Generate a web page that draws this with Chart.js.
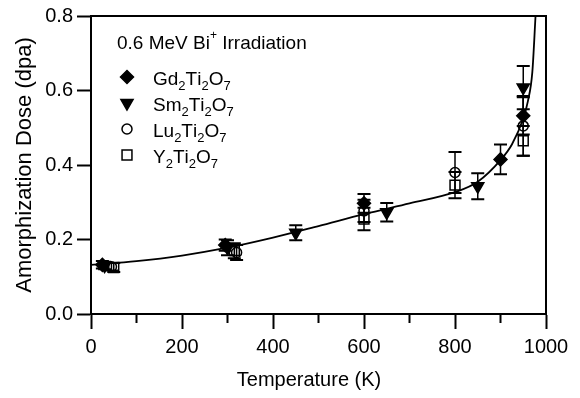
<!DOCTYPE html>
<html>
<head>
<meta charset="utf-8">
<script src="https://cdn.jsdelivr.net/npm/chart.js@4/dist/chart.umd.min.js"></script>
<style>
  html, body { margin: 0; padding: 0; background: #fff; }
</style>
</head>
<body>
<canvas id="myChart" width="580" height="398"></canvas>
<script>
// data
var titleParts = ['0.6 MeV Bi', '+', ' Irradiation'];
var names = ['Gd2Ti2O7', 'Sm2Ti2O7', 'Lu2Ti2O7', 'Y2Ti2O7'];
var xTitle = 'Temperature (K)';
var yTitle = 'Amorphization Dose (dpa)';

var gdT = [25, 295, 600, 900, 950];
var gdDose = [0.132, 0.185, 0.297, 0.415, 0.532];
var gdErr = [0.01, 0.015, 0.025, 0.04, 0.05];

var smT = [30, 300, 450, 650, 850, 950];
var smDose = [0.13, 0.178, 0.218, 0.273, 0.343, 0.608];
var smErr = [0.01, 0.02, 0.02, 0.025, 0.035, 0.058];

var luT = [45, 320, 600, 800, 950];
var luDose = [0.127, 0.165, 0.277, 0.38, 0.505];
var luErr = [0.01, 0.02, 0.03, 0.055, 0.08];

var yT = [50, 315, 600, 800, 950];
var yDose = [0.125, 0.17, 0.255, 0.346, 0.465];
var yErr = [0.012, 0.02, 0.03, 0.035, 0.04];

// fitted curve, read at several temperatures
var fitT = [0, 100, 200, 300, 400, 500, 600, 700, 800, 850, 900, 925, 950, 960, 970, 977];
var fitDose = [0.132, 0.142, 0.157, 0.178, 0.205, 0.236, 0.268, 0.297, 0.327, 0.355, 0.413, 0.455, 0.525, 0.57, 0.65, 0.8];

var xTicks = [0, 200, 400, 600, 800, 1000];
var xMinor = [100, 300, 500, 700, 900];
var yTicks = [0, 0.2, 0.4, 0.6, 0.8];

var FONT = '"Liberation Sans", Arial, Helvetica, sans-serif';
Chart.defaults.font.family = FONT;
Chart.defaults.color = '#000';

function pts(t, v) {
  return t.map(function (x, i) { return { x: x, y: v[i] }; });
}

var series = [
  { label: names[0], t: gdT, v: gdDose, e: gdErr, style: 'rectRot', r: 6.5, rot: 0, fill: '#000' },
  { label: names[1], t: smT, v: smDose, e: smErr, style: 'triangle', r: 7, rot: 180, fill: '#000' },
  { label: names[2], t: luT, v: luDose, e: luErr, style: 'circle', r: 5, rot: 0, fill: 'rgba(0,0,0,0)' },
  { label: names[3], t: yT, v: yDose, e: yErr, style: 'rect', r: 7, rot: 0, fill: 'rgba(0,0,0,0)' }
];

var datasets = series.map(function (s) {
  return {
    label: s.label,
    data: pts(s.t, s.v),
    errors: s.e,
    pointStyle: s.style,
    pointRadius: s.r,
    pointRotation: s.rot,
    pointBackgroundColor: s.fill,
    pointBorderColor: '#000',
    pointBorderWidth: 1.5,
    showLine: false
  };
});
datasets.push({
  label: 'fit',
  data: pts(fitT, fitDose),
  showLine: true,
  borderColor: '#000',
  borderWidth: 1.8,
  pointRadius: 0,
  cubicInterpolationMode: 'monotone'
});

function tickVals(arr) {
  return function (scale) {
    scale.ticks = arr.map(function (v) { return { value: v }; });
  };
}

var errorBars = {
  id: 'errorBars',
  afterDatasetsDraw: function (chart) {
    var ctx = chart.ctx, xs = chart.scales.x, ys = chart.scales.y;
    ctx.save();
    ctx.strokeStyle = '#000';
    chart.data.datasets.forEach(function (ds) {
      if (!ds.errors) return;
      ds.data.forEach(function (p, i) {
        var px = xs.getPixelForValue(p.x);
        var top = ys.getPixelForValue(p.y + ds.errors[i]);
        var bot = ys.getPixelForValue(p.y - ds.errors[i]);
        ctx.lineWidth = 1.5;
        ctx.beginPath();
        ctx.moveTo(px, top); ctx.lineTo(px, bot);
        ctx.stroke();
        ctx.lineWidth = 2;
        ctx.beginPath();
        ctx.moveTo(px - 6.5, top); ctx.lineTo(px + 6.5, top);
        ctx.moveTo(px - 6.5, bot); ctx.lineTo(px + 6.5, bot);
        ctx.stroke();
      });
    });
    ctx.restore();
  }
};

function drawFormula(ctx, s, x, y) {
  for (var i = 0; i < s.length; i++) {
    var c = s[i];
    if (c >= '0' && c <= '9') {
      ctx.font = '13px ' + FONT;
      ctx.fillText(c, x, y + 5);
    } else {
      ctx.font = '19px ' + FONT;
      ctx.fillText(c, x, y);
    }
    x += ctx.measureText(c).width;
  }
}

var frame = {
  id: 'frame',
  afterDraw: function (chart) {
    var ctx = chart.ctx, a = chart.chartArea, xs = chart.scales.x;
    ctx.save();
    ctx.strokeStyle = '#000';
    ctx.lineWidth = 2;
    ctx.beginPath();
    ctx.moveTo(a.left, a.top); ctx.lineTo(a.right, a.top); ctx.lineTo(a.right, a.bottom);
    ctx.stroke();
    // minor x ticks
    ctx.beginPath();
    xMinor.forEach(function (v) {
      var px = xs.getPixelForValue(v);
      ctx.moveTo(px, a.bottom); ctx.lineTo(px, a.bottom + 9);
    });
    ctx.stroke();

    ctx.fillStyle = '#000';
    // x axis title, sits a bit left of centre in the original
    ctx.font = '20px ' + FONT;
    ctx.textAlign = 'center';
    ctx.textBaseline = 'middle';
    ctx.fillText(xTitle, 309, 380);

    // legend box inside plot
    ctx.textAlign = 'left';
    ctx.textBaseline = 'alphabetic';
    ctx.font = '19px ' + FONT;
    var x = 117, y = 49;
    ctx.fillText(titleParts[0], x, y);
    x += ctx.measureText(titleParts[0]).width;
    ctx.font = '12px ' + FONT;
    ctx.fillText(titleParts[1], x, y - 10);
    x += ctx.measureText(titleParts[1]).width;
    ctx.font = '19px ' + FONT;
    ctx.fillText(titleParts[2], x, y);

    series.forEach(function (s, i) {
      var base = 85 + i * 26;
      ctx.fillStyle = s.fill;
      ctx.strokeStyle = '#000';
      ctx.lineWidth = 1.5;
      Chart.helpers.drawPoint(ctx, { pointStyle: s.style, rotation: s.rot, radius: s.r, borderWidth: 1.5 }, 127, base - 8);
      ctx.fillStyle = '#000';
      drawFormula(ctx, s.label, 153, base);
    });
    ctx.restore();
  }
};

var ctx = document.getElementById('myChart').getContext('2d');
var myChart = new Chart(ctx, {
  type: 'scatter',
  data: { datasets: datasets },
  plugins: [errorBars, frame],
  options: {
    responsive: false,
    animation: false,
    devicePixelRatio: 1,
    layout: { padding: { top: 15, right: 34, left: 0, bottom: 0 } },
    plugins: { legend: { display: false }, tooltip: { enabled: false } },
    scales: {
      x: {
        type: 'linear', min: 0, max: 1000,
        afterBuildTicks: tickVals(xTicks),
        afterFit: function (s) { s.height = 84; },
        ticks: { font: { size: 20 }, padding: 6, maxRotation: 0, callback: function (v) { return String(v); } },
        grid: { drawOnChartArea: false, tickLength: 15, tickWidth: 2, tickColor: '#000' },
        border: { color: '#000', width: 2 },
        title: { display: false }
      },
      y: {
        type: 'linear', min: 0, max: 0.8,
        afterBuildTicks: tickVals(yTicks),
        afterFit: function (s) { s.width = 91; },
        ticks: { font: { size: 20 }, padding: 4, callback: function (v) { return v.toFixed(1); } },
        grid: { drawOnChartArea: false, tickLength: 14, tickWidth: 2, tickColor: '#000' },
        border: { color: '#000', width: 2 },
        title: { display: true, text: yTitle, font: { size: 22 }, padding: { top: 12, bottom: 0 } }
      }
    }
  }
});
</script>
</body>
</html>
